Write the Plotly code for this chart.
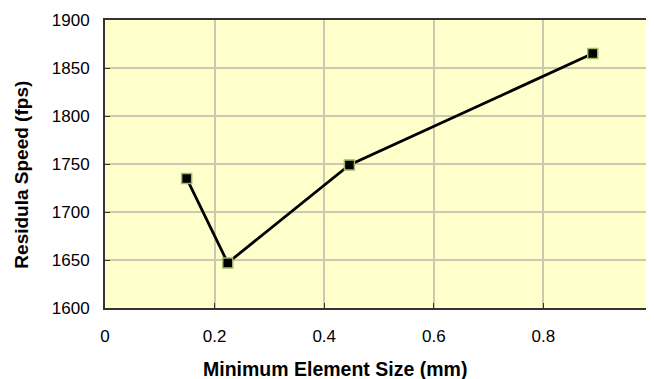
import plotly.graph_objects as go

element_size = [0.149, 0.224, 0.446, 0.89]
residual_speed = [1735, 1647, 1749, 1865]
x_ticks = [0, 0.2, 0.4, 0.6, 0.8, 1]
y_ticks = [1600, 1650, 1700, 1750, 1800, 1850, 1900]

fig = go.Figure()
fig.add_trace(go.Scatter(
    x=element_size, y=residual_speed, mode="lines+markers",
    line=dict(color="black", width=2.8),
    marker=dict(symbol="square", size=10, color="black",
                line=dict(color="#a3b86a", width=1.5)),
    showlegend=False,
))

font = "Liberation Sans, Arial, sans-serif"
fig.update_layout(
    width=660, height=371,
    margin=dict(l=97, r=10, t=12, b=71),
    paper_bgcolor="white",
    plot_bgcolor="#ffffcc",
    font=dict(family=font, size=17, color="black"),
    xaxis=dict(
        range=[0, 1], tickvals=x_ticks, ticktext=[f"{v:g}" for v in x_ticks],
        showgrid=True, gridcolor="#cfc8b0", gridwidth=1.5,
        showline=True, linecolor="#333333", linewidth=2, mirror=True,
        ticks="inside", ticklen=5, tickcolor="#333333",
        ticklabelstandoff=12, automargin=True,
        zeroline=False,
    ),
    yaxis=dict(
        range=[1600, 1900], tickvals=y_ticks,
        showgrid=True, gridcolor="#cfc8b0", gridwidth=1.5,
        showline=True, linecolor="#333333", linewidth=2, mirror=True,
        ticks="inside", ticklen=5, tickcolor="#333333",
        ticklabelstandoff=10, automargin=False,
        zeroline=False,
    ),
    annotations=[
        dict(text="<b>Minimum Element Size (mm)</b>", xref="paper", yref="paper",
             x=0.42, y=0, xanchor="center", yanchor="middle", yshift=-61,
             showarrow=False, font=dict(size=19.5)),
        dict(text="<b>Residula Speed (fps)</b>", xref="paper", yref="paper",
             x=-0.152, y=0.462, xanchor="center", yanchor="middle", textangle=-90,
             showarrow=False, font=dict(size=19)),
    ],
)

fig.write_html("out.html")
